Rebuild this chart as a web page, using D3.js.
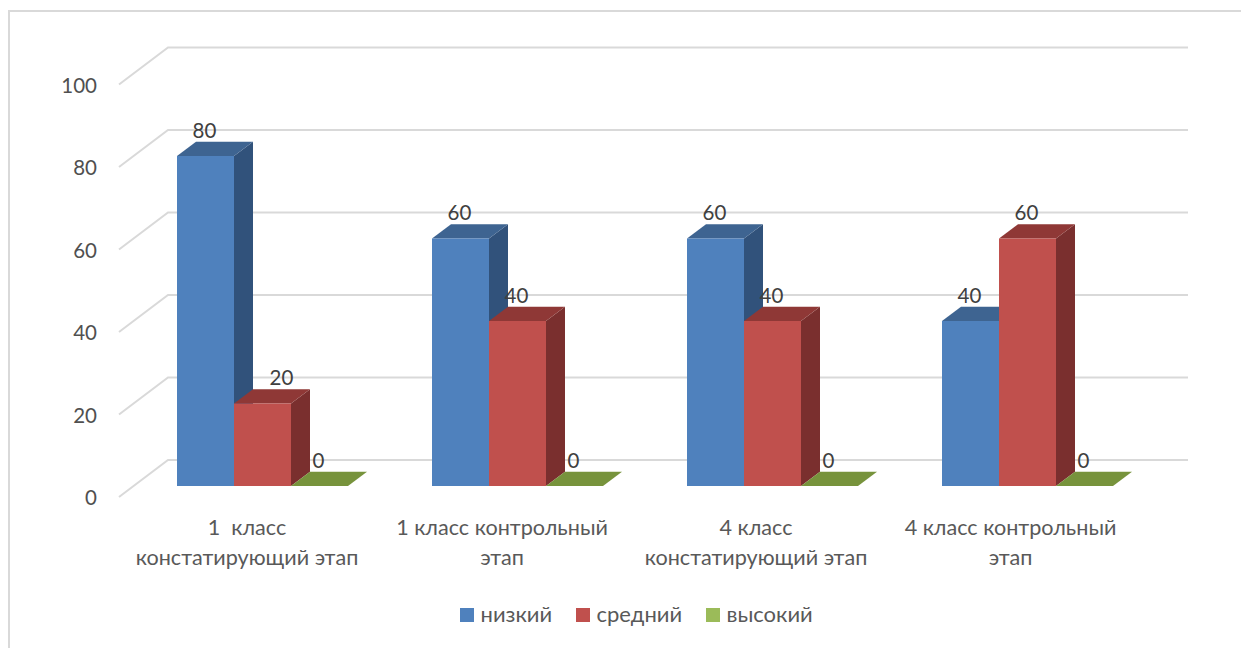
<!DOCTYPE html>
<html lang="ru">
<head>
<meta charset="utf-8">
<script src="https://cdn.jsdelivr.net/npm/d3@7"></script>
<style>
  html, body { margin: 0; padding: 0; background: #fff; }
  svg { display: block; }
  text { font-family: Lato, "Open Sans", sans-serif; }
</style>
</head>
<body>
<div id="chart"></div>
<script>
// Chart data
const categories = [
    ["1  класс", "констатирующий этап"],
    ["1 класс контрольный", "этап"],
    ["4 класс", "констатирующий этап"],
    ["4 класс контрольный", "этап"]
];
const seriesNames = ["низкий", "средний", "высокий"];
const low = [80, 60, 60, 40];
const mid = [20, 40, 40, 60];
const high = [0, 0, 0, 0];
const yTicks = [0, 20, 40, 60, 80, 100];

const seriesValues = [low, mid, high];
const colors = [
    {front: "#4f81bd", top: "#3e6491", side: "#31527b"},
    {front: "#c0504d", top: "#8f3836", side: "#7a2f2e"},
    {front: "#9bbb59", top: "#77933c", side: "#64803a"}
];

const width = 1241, height = 648;
// depth offset of the 3d boxes and of the back wall
const depth = {x: 19, y: -14.3};
const wall = {x: 49, y: -37};

const svg = d3.select("#chart")
    .append("svg")
    .attr("width", width)
    .attr("height", height);

// Frame: only the top and left edges fall inside the page
svg.append("path")
    .attr("d", `M9,${height}V11H${width}`)
    .attr("fill", "none")
    .attr("stroke", "#d9d9d9")
    .attr("stroke-width", 2);

// y at the front edge of the floor, where the axis labels sit
let y_axis = d3.scaleLinear().domain([0, 100]).range([497, 84.5]);
// y on the plane of the bars
let y_bars = d3.scaleLinear().domain([0, 100]).range([486, 73.5]);

let x_group = d3.scaleBand()
    .domain(d3.range(categories.length))
    .range([134, 1154]);

let x_bar = d3.scaleBand()
    .domain(d3.range(seriesNames.length))
    .range([43, 214]);

// Gridlines: up the side wall, then along the back wall
svg.append("g")
    .selectAll("path")
    .data(yTicks)
    .enter()
    .append("path")
    .attr("d", function(d) {
        let y = y_axis(d);
        return `M119,${y}L${119 + wall.x},${y + wall.y}L1188,${y + wall.y}`;
    })
    .attr("fill", "none")
    .attr("stroke", "#d9d9d9")
    .attr("stroke-width", 2);

// Y axis labels
let y_axis_label = svg.append("g")
    .attr("transform", "translate(105, 1)")
    .call(d3.axisLeft(y_axis).tickValues(yTicks).tickSize(0).tickPadding(8));
y_axis_label.select(".domain").remove();
y_axis_label.selectAll("text")
    .style("font-family", 'Lato, "Open Sans", sans-serif')
    .style("font-size", "20.5px")
    .attr("fill", "#505050");

// Bars, one 3d box per value
let groups = svg.append("g")
    .selectAll("g")
    .data(categories)
    .enter()
    .append("g")
    .attr("transform", function(d, i) { return `translate(${x_group(i)}, 0)`; });

groups.each(function(cat, i) {
    let g = d3.select(this);
    seriesValues.forEach(function(values, s) {
        let x0 = x_bar(s), x1 = x0 + x_bar.bandwidth();
        let y0 = y_bars(0), y1 = y_bars(values[i]);
        // side face
        if (values[i] > 0) {
            g.append("path")
                .attr("d", `M${x1},${y1}L${x1 + depth.x},${y1 + depth.y}L${x1 + depth.x},${y0 + depth.y}L${x1},${y0}Z`)
                .attr("fill", colors[s].side);
        }
        // top face
        g.append("path")
            .attr("d", `M${x0},${y1}L${x0 + depth.x},${y1 + depth.y}L${x1 + depth.x},${y1 + depth.y}L${x1},${y1}Z`)
            .attr("fill", colors[s].top);
        // front face
        if (values[i] > 0) {
            g.append("rect")
                .attr("x", x0)
                .attr("y", y1)
                .attr("width", x_bar.bandwidth())
                .attr("height", y0 - y1)
                .attr("fill", colors[s].front);
        }
    });
    // Value labels go on top of every box in the group
    seriesValues.forEach(function(values, s) {
        // the 20 label is pushed right so it clears the tall neighbour
        let dx = (i == 0 && s == 1) ? 20 : 0;
        g.append("text")
            .attr("x", x_bar(s) + x_bar.bandwidth() / 2 - 1 + dx)
            .attr("y", y_bars(values[i]) - 18.5)
            .attr("text-anchor", "middle")
            .attr("font-size", 20.5)
            .attr("fill", "#404040")
            .text(values[i]);
    });
});

// Category labels, two lines each
let x_labels = [247, 502, 756, 1010.5];
svg.append("g")
    .selectAll("text")
    .data(categories)
    .enter()
    .append("text")
    .attr("text-anchor", "middle")
    .attr("font-size", 21.6)
    .attr("fill", "#595959")
    .attr("transform", function(d, i) { return `translate(${x_labels[i]}, 535)`; })
    .each(function(d) {
        let t = d3.select(this);
        d.forEach(function(line, n) {
            t.append("tspan")
                .attr("x", 0)
                .attr("dy", n == 0 ? 0 : 29.5)
                .style("white-space", "pre")
                .text(line);
        });
    });

// Legend
let legend_x = [460, 576, 706];
let legend = svg.append("g")
    .selectAll("g")
    .data(seriesNames)
    .enter()
    .append("g")
    .attr("transform", function(d, i) { return `translate(${legend_x[i]}, 608)`; });
legend.append("rect")
    .attr("width", 14)
    .attr("height", 14)
    .attr("fill", function(d, i) { return colors[i].front; });
legend.append("text")
    .attr("x", 20.5)
    .attr("y", 14)
    .attr("font-size", 22)
    .attr("fill", "#595959")
    .text(function(d) { return d; });
</script>
</body>
</html>
